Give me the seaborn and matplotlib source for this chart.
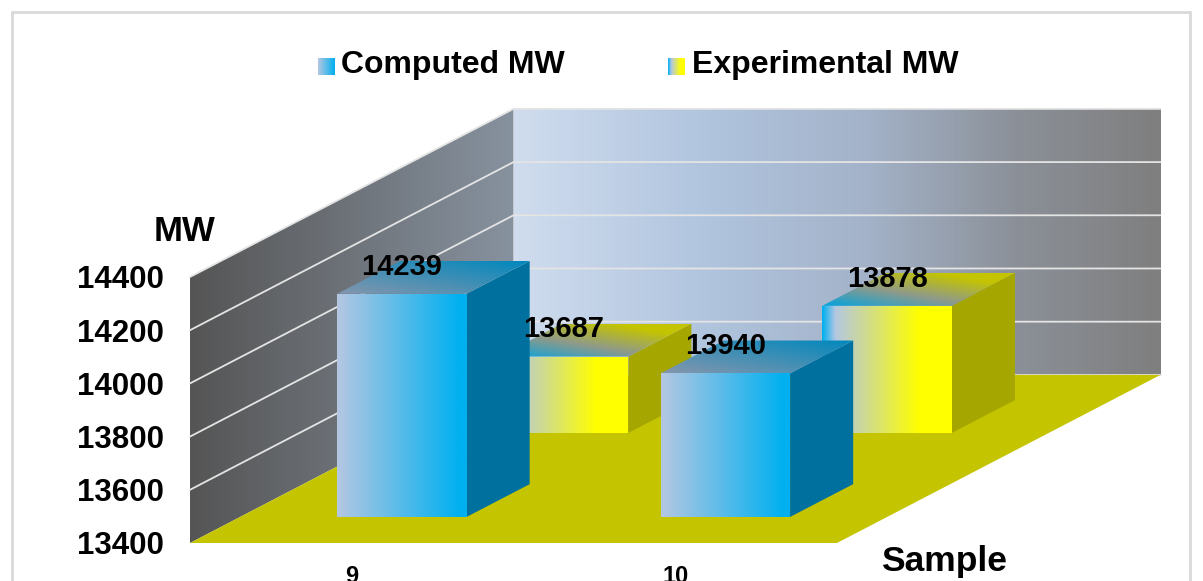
import matplotlib
matplotlib.use("Agg")
import matplotlib.pyplot as plt
import numpy as np
import pandas as pd
import seaborn as sns
from matplotlib.colors import LinearSegmentedColormap
from matplotlib.patches import Polygon, Rectangle

# Chart values
samples = ["9", "10"]
computed_mw = [14239, 13940]
experimental_mw = [13687, 13878]
series_names = ["Computed MW", "Experimental MW"]
mw_ticks = [13400, 13600, 13800, 14000, 14200, 14400]

# Oblique projection: one unit of depth moves a point this far in axis units
DEPTH_X = 1.0
DEPTH_MW = 632.0
ROW_DEPTH = {"Computed MW": (0.155, 0.35), "Experimental MW": (0.655, 0.85)}

BLUE, YELLOW, FLOOR = "#00b0f0", "#ffff00", "#c4c400"
PALE = "#b4c7e2"
FRONT_STOPS = {
    "Computed MW": [(0, PALE), (0.95, BLUE), (1, BLUE)],
    "Experimental MW": [(0, BLUE), (0.1, PALE), (0.75, YELLOW), (1, YELLOW)],
}
TOP_STOPS = {
    "Computed MW": [(0, "#8496ad"), (1, "#0088bd")],
    "Experimental MW": [(0, "#00a4e0"), (0.4, "#8f9a8a"), (0.8, FLOOR), (1, FLOOR)],
}
SIDE = {"Computed MW": "#00719f", "Experimental MW": "#a6a600"}

FONT = "Liberation Sans"
sns.set_theme(style="white", rc={"font.family": FONT, "font.weight": "bold"})

W, H = 1203, 581
fig = plt.figure(figsize=(W / 100, H / 100), dpi=100, facecolor="white")
ax = fig.add_axes([190 / W, 1 - 543 / H, 647 / W, 266 / H])
ax.patch.set_alpha(0)

long_df = pd.DataFrame({
    "Sample": samples * 2,
    "MW": computed_mw + experimental_mw,
    "Series": [series_names[0]] * 2 + [series_names[1]] * 2,
})
sns.barplot(data=long_df, x="Sample", y="MW", hue="Series", dodge=False, width=0.4,
            palette=[BLUE, YELLOW], legend=False, ax=ax, errorbar=None)
base = mw_ticks[0]
ax.set_xlim(-0.5, 1.5)
ax.set_ylim(base, mw_ticks[-1])


def project(x, mw, depth):
    return x + depth * DEPTH_X, mw + depth * DEPTH_MW


def gradient(points, stops, z, diagonal=False):
    """Fill a polygon with a colour ramp, running left to right or corner to corner."""
    pts = np.asarray(points)
    x0, y0 = pts.min(axis=0)
    x1, y1 = pts.max(axis=0)
    cmap = LinearSegmentedColormap.from_list("ramp", stops, N=256)
    u = np.linspace(0, 1, 128)
    field = (u[None, :] + u[:, None]) / 2 if diagonal else u[None, :]
    im = ax.imshow(field, extent=(x0, x1, y0, y1), origin="lower", cmap=cmap, vmin=0, vmax=1,
                   aspect="auto", interpolation="bilinear", zorder=z)
    clip = Polygon(pts, closed=True, transform=ax.transData, fill=False, edgecolor="none")
    im.set_clip_path(clip)
    im.set_clip_box(fig.bbox)


# Room: left wall, back wall and floor
top = mw_ticks[-1]
left_wall = [project(-0.5, base, 0), project(-0.5, base, 1), project(-0.5, top, 1), project(-0.5, top, 0)]
back_wall = [project(-0.5, base, 1), project(1.5, base, 1), project(1.5, top, 1), project(-0.5, top, 1)]
floor = [project(-0.5, base, 0), project(1.5, base, 0), project(1.5, base, 1), project(-0.5, base, 1)]
gradient(left_wall, [(0, "#555555"), (1, "#87929f")], 1)
gradient(back_wall, [(0, "#cfdcee"), (0.3, "#b0c4de"), (0.55, "#a3b2c8"),
                     (0.78, "#8b9098"), (1, "#7f7f7f")], 1)
ax.add_patch(Polygon(floor, closed=True, facecolor=FLOOR, edgecolor="none", zorder=2, clip_on=False))

for mw in mw_ticks:
    xs, ys = zip(project(-0.5, mw, 0), project(-0.5, mw, 1), project(1.5, mw, 1))
    if mw > base:
        ax.plot(xs, ys, color="#e4e4e4", lw=1.3, zorder=1.5, clip_on=False, solid_joinstyle="miter")
    else:
        ax.plot(xs[1:], ys[1:], color="#e4e4e4", lw=1.3, zorder=1.5, clip_on=False)

# Turn the flat bars into boxes, back row first
bars = list(ax.patches)
bars = [b for b in bars if isinstance(b, Rectangle) and b.get_width() < 1 and b.get_height() > 0]
names = [series_names[0]] * 2 + [series_names[1]] * 2
values = computed_mw + experimental_mw
draw_order = [2, 3, 0, 1]
for rank, i in enumerate(draw_order):
    bar, name, value = bars[i], names[i], values[i]
    bar.set_visible(False)
    near, far = ROW_DEPTH[name]
    x0, x1 = bar.get_x(), bar.get_x() + bar.get_width()
    z = 3 + rank
    front = [project(x0, base, near), project(x1, base, near), project(x1, value, near), project(x0, value, near)]
    side = [project(x1, base, near), project(x1, base, far), project(x1, value, far), project(x1, value, near)]
    lid = [project(x0, value, near), project(x1, value, near), project(x1, value, far), project(x0, value, far)]
    ax.add_patch(Polygon(side, closed=True, facecolor=SIDE[name], edgecolor="none", zorder=z, clip_on=False))
    gradient(lid, TOP_STOPS[name], z, diagonal=True)
    gradient(front, FRONT_STOPS[name], z + 0.1)

# Value labels sit just above each box's front edge
for i in range(4):
    bar, name, value = bars[i], names[i], values[i]
    near, _ = ROW_DEPTH[name]
    cx, cy = project(bar.get_x() + bar.get_width() / 2, value, near)
    ax.annotate(str(value), (cx, cy), xytext=(0, 19.5), textcoords="offset points",
                ha="center", va="center", fontsize=21, fontweight="bold", color="black",
                zorder=20, annotation_clip=False)

# Axes furniture
sns.despine(ax=ax, left=True, bottom=True, top=True, right=True)
ax.set_yticks(mw_ticks)
ax.set_yticklabels([str(t) for t in mw_ticks], fontsize=22.5, fontweight="bold", color="black")
ax.set_xticks(range(len(samples)))
ax.set_xticklabels(samples, fontsize=17, fontweight="bold", color="black")
ax.tick_params(axis="y", length=0, pad=19)
ax.tick_params(axis="x", length=0, pad=16)
ax.set_xlabel("")
ax.set_ylabel("")
ax.set_xlim(-0.5, 1.5)
ax.set_ylim(base, top)

fig.text(184 / W, 1 - 231 / H, "MW", ha="center", va="center", fontsize=25, fontweight="bold", color="black")
fig.text(944 / W, 1 - 561 / H, "Sample", ha="center", va="center", fontsize=25.5, fontweight="bold", color="black")

# Legend: gradient swatches with bold names
legend_items = [(318, 341, series_names[0]), (668, 692, series_names[1])]
for sx, tx, name in legend_items:
    sw = fig.add_axes([sx / W, 1 - 75 / H, 17 / W, 17 / H])
    sw.axis("off")
    stops = [(0, PALE), (1, BLUE)] if name == series_names[0] else [(0, BLUE), (0.2, PALE), (0.75, YELLOW), (1, YELLOW)]
    cmap = LinearSegmentedColormap.from_list("swatch", stops, N=256)
    sw.imshow(np.linspace(0, 1, 64)[None, :], cmap=cmap, aspect="auto", vmin=0, vmax=1)
    fig.text(tx / W, 1 - 65 / H, name, ha="left", va="center", fontsize=23, fontweight="bold", color="black")

# Outer chart frame
fig.add_artist(Rectangle((11.5 / W, 1 - 620 / H), 1178 / W, 608 / H, transform=fig.transFigure,
                         facecolor="none", edgecolor="#d9d9d9", lw=2))

fig.savefig("out.png", dpi=100)
